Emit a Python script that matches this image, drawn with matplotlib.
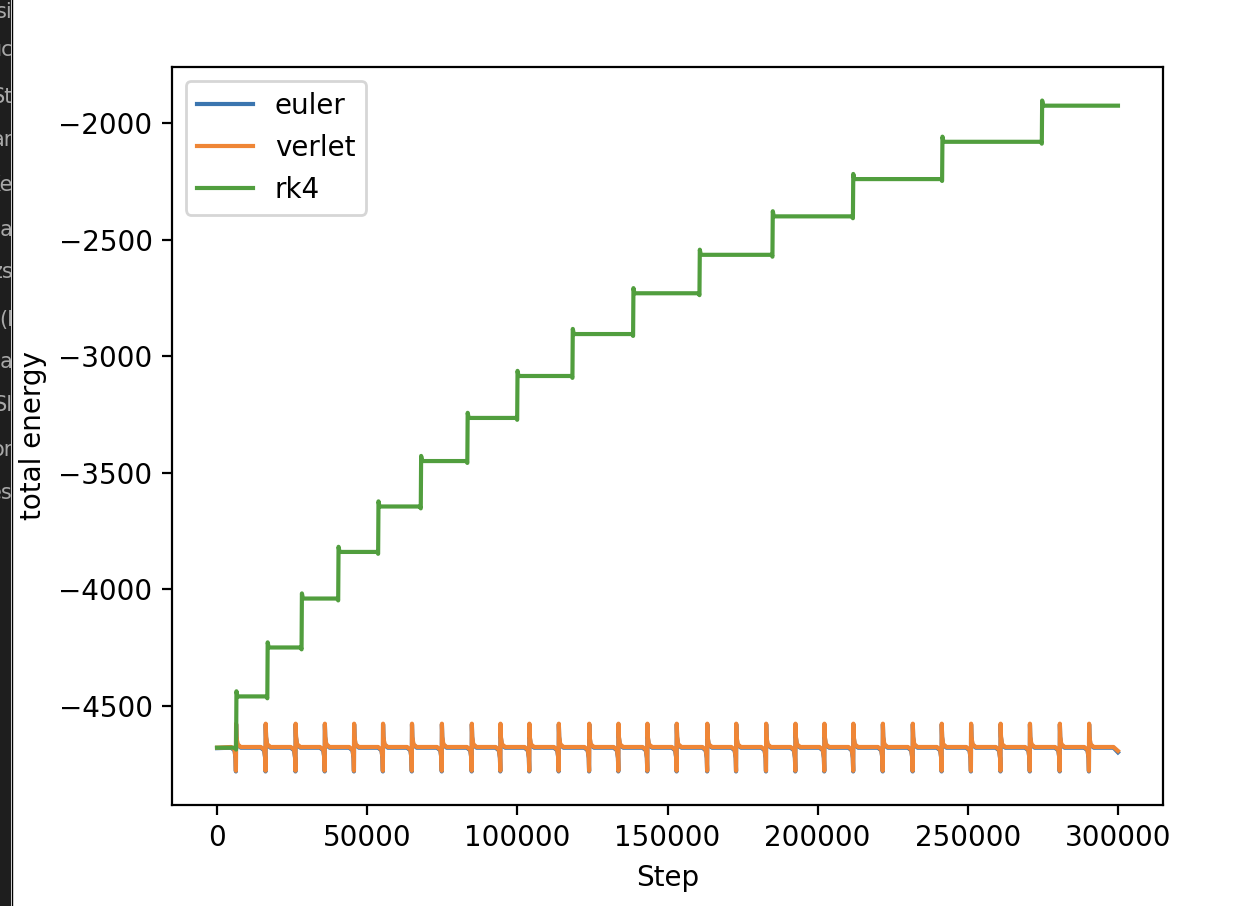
import matplotlib
matplotlib.use('Agg')
import matplotlib.pyplot as plt
from matplotlib.patches import Rectangle
from matplotlib.transforms import Bbox, TransformedBbox

# values
last_step = 300000

# verlet / euler: flat line with a kick at every close pass
spike_steps = [6312, 16179, 26146, 35880, 45615, 55249, 64884, 74850, 84817, 94352,
               103987, 113787, 123920, 133654, 143289, 153056, 163223, 172857, 182824, 192591,
               202226, 211860, 221694, 231661, 241296, 251063, 260897, 270664, 280631, 290365]
spike_dx = [-1600, -500, -150, -30, 30, 150, 500, 1600]
spike_de = [0, -12, -45, -102, 100, 45, 12, 0]

verlet_start, verlet_base, verlet_end = -4680, -4677, -4694
euler_start, euler_base, euler_end = -4682, -4680, -4700

# rk4: staircase
rk4_jump_steps = [6400, 16800, 28200, 40400, 53700, 67900, 83400, 100000,
                  118400, 138600, 160700, 185000, 211800, 241500, 274700]
rk4_levels = [-4680, -4460, -4250, -4040, -3840, -3645, -3450, -3265,
              -3085, -2905, -2730, -2565, -2400, -2240, -2080, -1925]
rk4_overshoot = 22
rk4_dip = 8

# left edge of the screenshot (another window)
side_texts = ['si', 'uc', 'St', 'ar', 'Ke', 'na', 'zs', '(I', 'na', 'Sl', 'or', 'es']
side_text_y = [12, 50, 97, 140, 185, 230, 272, 320, 362, 405, 450, 493]


def spiky(base, start, end):
    x = [0]
    y = [start]
    for s in spike_steps:
        for dx, de in zip(spike_dx, spike_de):
            x.append(s + dx)
            y.append(base + de)
    x += [last_step - 1500, last_step]
    y += [base, end]
    return x, y


def staircase():
    x = [0]
    y = [rk4_levels[0]]
    for j, lo, hi in zip(rk4_jump_steps, rk4_levels[:-1], rk4_levels[1:]):
        x += [j - 300, j - 60, j + 60, j + 400]
        y += [lo, lo - rk4_dip, hi + rk4_overshoot, hi]
    x.append(last_step)
    y.append(rk4_levels[-1])
    return x, y


W, H = 1258, 906
fig = plt.figure(figsize=(W / 200, H / 200), dpi=200)
ax = fig.add_axes([172 / W, 101 / H, 991 / W, 738 / H])

ex, ey = spiky(euler_base, euler_start, euler_end)
vx, vy = spiky(verlet_base, verlet_start, verlet_end)
rx, ry = staircase()

ax.plot(ex, ey, color='#3b75af', label='euler')
ax.plot(vx, vy, color='#ef8636', label='verlet')
ax.plot(rx, ry, color='#519e3e', label='rk4')

ax.set_xlabel('Step')
ax.set_ylabel('total energy')
ax.legend(loc='upper left')

# dark strip on the left
fig.patches.append(Rectangle((0, 0), 11 / W, 1, transform=fig.transFigure,
                             facecolor='#1e1e1e', edgecolor='none', zorder=0))
fig.add_artist(plt.Line2D([11.5 / W, 11.5 / W], [0, 1], transform=fig.transFigure,
                          color='black', lw=0.5))
clip = TransformedBbox(Bbox([[0, 0], [11 / W, 1]]), fig.transFigure)
for s, yy in zip(side_texts, side_text_y):
    t = fig.text(13 / W, 1 - yy / H, s, ha='right', va='center', fontsize=7.5,
                 color='#a8a8a8')
    t.set_clip_box(clip)
    t.set_clip_on(True)

fig.savefig('out.png', dpi=200)
